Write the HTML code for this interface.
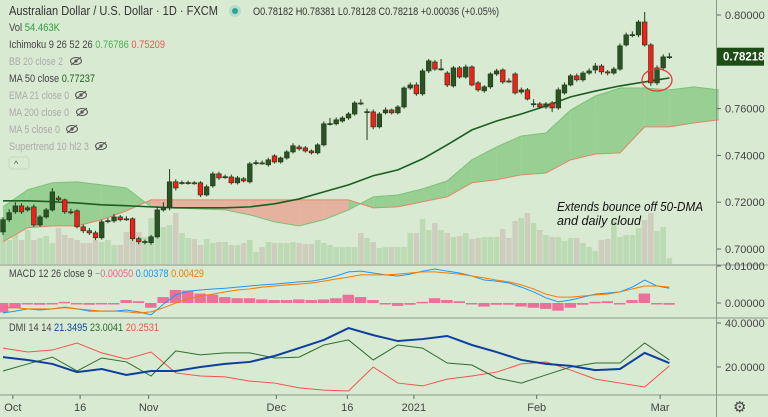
<!DOCTYPE html>
<html><head><meta charset="utf-8"><style>
html,body{margin:0;padding:0;background:#d9ead3;}
svg{display:block;font-family:"Liberation Sans",sans-serif;}
</style></head><body>
<svg id="c" width="768" height="417" viewBox="0 0 768 417" xmlns="http://www.w3.org/2000/svg">
<rect x="0" y="0" width="768" height="417" fill="#d9ead3"/>
<g id="g-vol"></g>
<g id="g-cloud"></g>
<g id="g-ma"></g>
<g id="g-candles"></g>
<g id="g-macd"></g>
<g id="g-dmi"></g>
<g id="g-axes"></g>
<ellipse cx="657" cy="80" rx="15" ry="11" fill="none" stroke="#e53935" stroke-width="1.3"/>
<text x="557" y="211" font-size="13" font-style="italic" fill="#111" textLength="146" lengthAdjust="spacingAndGlyphs">Extends bounce off 50-DMA</text>
<text x="557" y="225" font-size="13" font-style="italic" fill="#111" textLength="84" lengthAdjust="spacingAndGlyphs">and daily cloud</text>
<g>
<text x="9" y="15" fill="#333" font-size="12.5" textLength="209" lengthAdjust="spacingAndGlyphs">Australian Dollar / U.S. Dollar · 1D · FXCM</text>
<circle cx="235" cy="11" r="6" fill="#b9dcc9"/>
<circle cx="235" cy="11" r="3" fill="#26a69a"/>
<text x="253" y="15" font-size="11" fill="#333" textLength="246" lengthAdjust="spacingAndGlyphs">O0.78182 H0.78381 L0.78128 C0.78218 +0.00036 (+0.05%)</text>
<text x="9" y="31" font-size="11" fill="#444" textLength="51" lengthAdjust="spacingAndGlyphs">Vol <tspan fill="#2e9e3e">54.463K</tspan></text>
<text x="9" y="48" font-size="11" fill="#444" textLength="156" lengthAdjust="spacingAndGlyphs">Ichimoku 9 26 52 26 <tspan fill="#4caf50">0.76786</tspan> <tspan fill="#ef5350">0.75209</tspan></text>
<text x="9" y="65" font-size="11" fill="#aaa" textLength="54" lengthAdjust="spacingAndGlyphs">BB 20 close 2</text>
<text x="9" y="82" font-size="11" fill="#444" textLength="86" lengthAdjust="spacingAndGlyphs">MA 50 close <tspan fill="#1b5e20">0.77237</tspan></text>
<text x="9" y="99" font-size="11" fill="#aaa" textLength="60" lengthAdjust="spacingAndGlyphs">EMA 21 close 0</text>
<text x="9" y="116" font-size="11" fill="#aaa" textLength="60" lengthAdjust="spacingAndGlyphs">MA 200 close 0</text>
<text x="9" y="133" font-size="11" fill="#aaa" textLength="51" lengthAdjust="spacingAndGlyphs">MA 5 close 0</text>
<text x="9" y="150" font-size="11" fill="#aaa" textLength="80" lengthAdjust="spacingAndGlyphs">Supertrend 10 hl2 3</text>
<g id="eyes"></g>
<rect x="9" y="157" width="20" height="12" rx="3" fill="none" stroke="#c5d5c0"/>
<text x="14" y="167" font-size="9" fill="#555">^</text>
<text x="9" y="277" font-size="11" fill="#444" textLength="195" lengthAdjust="spacingAndGlyphs">MACD 12 26 close 9 <tspan fill="#f06292">−0.00050</tspan> <tspan fill="#2196f3">0.00378</tspan> <tspan fill="#f57c00">0.00429</tspan></text>
<text x="9" y="331" font-size="11" fill="#444" textLength="150" lengthAdjust="spacingAndGlyphs">DMI 14 14 <tspan fill="#0d47a1">21.3495</tspan> <tspan fill="#2e6b2e">23.0041</tspan> <tspan fill="#ef5350">20.2531</tspan></text>
</g>
</svg>
<script>
// ---- data ----
const opens=[.7073,.7125,.7159,.7184,.7167,.7180,.7103,.7137,.7167,.7218,.7210,.7159,.7163,.7095,.7078,.7069,.7048,.7120,.7120,.7137,.7129,.7129,.7044,.7031,.7027,.7052,.7167,.7176,.7287,.7283,.7283,.7283,.7283,.7231,.7270,.7321,.7308,.7308,.7283,.7300,.7287,.7368,.7368,.7360,.7398,.7372,.7389,.7415,.7436,.7432,.7419,.7411,.7445,.7535,.7535,.7547,.7560,.7577,.7624,.7586,.7586,.7522,.7582,.7594,.7582,.7607,.7688,.7701,.7663,.7761,.7799,.7769,.7752,.7697,.7774,.7735,.7778,.7710,.7676,.7693,.7748,.7765,.7718,.7748,.7671,.7680,.7620,.7620,.7607,.7624,.7603,.7667,.7701,.7740,.7723,.7752,.7765,.7782,.7757,.7752,.7769,.7872,.7915,.7915,.7970,.7872,.7710,.7774,.78182];
const closes=[.7125,.7155,.7184,.7159,.7176,.7103,.7137,.7167,.7244,.7210,.7159,.7157,.7095,.7078,.7069,.7048,.7116,.7121,.7137,.7125,.7128,.7044,.7031,.7032,.7052,.7167,.7176,.7287,.7261,.7284,.7284,.7282,.7231,.7266,.7321,.7304,.7309,.7283,.7304,.7291,.7364,.7369,.7367,.7381,.7372,.7389,.7415,.7441,.7428,.7419,.7411,.7445,.7535,.7536,.7552,.7560,.7577,.7624,.7623,.7587,.7522,.7577,.7594,.7582,.7607,.7688,.7701,.7663,.7761,.7804,.7769,.7770,.7701,.7774,.7735,.7778,.7701,.7680,.7693,.7748,.7761,.7714,.7717,.7667,.7680,.7641,.7621,.7607,.7620,.7603,.7680,.7701,.7740,.7723,.7752,.7761,.7782,.7757,.7752,.7769,.7868,.7915,.7916,.7970,.7872,.7710,.7774,.7821,.78218];
const highs=[.7135,.7170,.7200,.7195,.7185,.7190,.7145,.7175,.7260,.7228,.7215,.7172,.7170,.7105,.7090,.7078,.7125,.7132,.7150,.7145,.7140,.7135,.7052,.7040,.7060,.7180,.7200,.7342,.7298,.7292,.7292,.7290,.7290,.7275,.7330,.7330,.7318,.7318,.7312,.7308,.7372,.7380,.7378,.7390,.7405,.7395,.7422,.7452,.7445,.7440,.7425,.7452,.7545,.7560,.7562,.7568,.7585,.7632,.7640,.7600,.7596,.7585,.7605,.7600,.7615,.7695,.7712,.7712,.7770,.7812,.7808,.7812,.7760,.7782,.7782,.7788,.7785,.7718,.7700,.7755,.7770,.7772,.7730,.7755,.7690,.7688,.7640,.7628,.7628,.7632,.7690,.7712,.7748,.7750,.7760,.7772,.7795,.7790,.7765,.7778,.7878,.7925,.7930,.7978,.8013,.7880,.7785,.7832,.7838];
const lows=[.7060,.7115,.7150,.7150,.7160,.7095,.7095,.7130,.7160,.7205,.7150,.7148,.7088,.7068,.7060,.7038,.7040,.7110,.7112,.7118,.7120,.7035,.7020,.7020,.7018,.7045,.7160,.7165,.7250,.7275,.7275,.7275,.7222,.7225,.7262,.7295,.7300,.7276,.7276,.7284,.7280,.7358,.7360,.7352,.7365,.7365,.7382,.7408,.7420,.7412,.7404,.7404,.7438,.7528,.7528,.7540,.7552,.7570,.7615,.7466,.7512,.7515,.7575,.7575,.7575,.7600,.7680,.7655,.7655,.7752,.7762,.7762,.7692,.7690,.7728,.7728,.7695,.7672,.7668,.7685,.7740,.7706,.7710,.7660,.7662,.7635,.7605,.7600,.7598,.7585,.7595,.7660,.7695,.7715,.7715,.7745,.7750,.7745,.7742,.7745,.7762,.7865,.7905,.7905,.7865,.7697,.7700,.7765,.7812];
const volumes=[47,24,46,24,34,24,26,28,21,36,29,26,24,21,21,24,22,24,19,19,32,27,32,27,46,51,37,39,51,31,26,25,19,25,21,22,22,19,19,21,24,12,17,22,21,21,21,22,21,20,20,24,21,19,17,17,17,17,31,26,22,16,17,17,17,17,31,31,45,34,41,34,31,27,28,31,25,26,27,27,27,35,26,43,46,51,41,34,29,27,27,23,26,26,21,17,13,24,25,44,27,29,29,36,44,51,33,37,6];
// MACD sampled every 2 bars (units 1e-4)
const macdLine=[-27,-22,-16,-19,-16,-11,-16,-22,-22,-22,-19,-24,-32,-3,22,32,35,38,40,43,46,49,51,54,57,59,65,73,84,86,81,76,73,78,86,92,86,81,73,62,59,54,43,30,14,3,8,16,24,27,30,43,62,46,40];
const signalLine=[-11,-13,-16,-16,-16,-13,-16,-19,-22,-22,-24,-27,-24,-13,0,11,19,24,30,35,38,43,46,49,51,54,59,65,70,76,76,76,78,81,84,84,81,78,73,68,62,57,49,38,24,16,16,19,22,24,30,38,46,46,43];
// DMI sampled every 4 bars
const adx=[24.5,23.2,21.4,17.7,19.1,16.4,18.2,18.2,20,21.4,22.3,25,28.6,32.3,37.7,34.5,31.8,32.7,34.1,30,26.8,23.2,21.4,20.5,18.6,19.1,26.4,21.8];
const plusDI=[18.2,21.4,24.5,18.2,24.1,22.3,15.9,27.3,25.5,26.4,26.4,24.1,24.5,30,32.3,23.2,30,28.6,21.8,20.9,15,12.7,16.4,20,21.8,21.8,30.9,23.2];
const minusDI=[28.6,26.8,27.7,30.9,26.4,23.6,26.8,17.3,15.9,15.5,13.6,12.7,10.5,9.5,9.1,20,12.7,11.4,14.5,15.9,17.7,21.4,22.3,18.6,14.5,12.7,10.9,20.5];
// Ichimoku spans sampled every 4 bars (extends 26 bars ahead)
const spanA=[.7180,.7253,.7283,.7287,.7274,.7261,.7180,.7176,.7171,.7167,.7146,.7116,.7099,.7125,.7167,.7223,.7231,.7257,.7291,.7381,.7436,.7483,.7496,.7594,.7654,.7688,.7688,.7680,.7693,.7680];
const spanB=[.7031,.7091,.7099,.7099,.7125,.7163,.7210,.7210,.7210,.7210,.7210,.7210,.7210,.7210,.7210,.7176,.7180,.7202,.7223,.7283,.7296,.7317,.7325,.7381,.7406,.7411,.7522,.7522,.7539,.7552];
// MA50 sampled every 4 bars
const ma50=[.7206,.7206,.7202,.7197,.7189,.7185,.7180,.7176,.7176,.7176,.7180,.7193,.7214,.7244,.7274,.7313,.7338,.7385,.7445,.7509,.7547,.7577,.7611,.7650,.7675,.7697,.7714,.7731];
const priceTicks=[0.80,0.76,0.74,0.72,0.70];
const priceTickLabels=["0.80000","0.76000","0.74000","0.72000","0.70000"];
const macdTicks=[0.01,0];
const macdTickLabels=["0.01000","0.00000"];
const dmiTicks=[40,20];
const dmiTickLabels=["40.0000","20.0000"];
const timeIdx=[1.6,12.5,23.6,44.3,55.8,66.6,86.5,106.5];
const timeLabels=["Oct","16","Nov","Dec","16","2021","Feb","Mar"];

// ---- scales ----
const NS="http://www.w3.org/2000/svg";
const X=i=>3+i*6.17;
const Y=p=>15+(0.80-p)*2340;
const VY=v=>264-v;
const MY=v=>303-v*3700;
const DY=v=>323+(40-v)*2.2;
function el(tag,attrs,parent){const e=document.createElementNS(NS,tag);for(const k in attrs)e.setAttribute(k,attrs[k]);parent.appendChild(e);return e;}
const gV=document.getElementById('g-vol'),gC=document.getElementById('g-cloud'),gM=document.getElementById('g-ma'),gK=document.getElementById('g-candles'),gMa=document.getElementById('g-macd'),gD=document.getElementById('g-dmi'),gA=document.getElementById('g-axes');

// volume
volumes.forEach((v,i)=>{const up=closes[i]>=opens[i];
 const r=el('rect',{x:X(i)-2.8,y:VY(v),width:5.6,height:v,fill:up?'#bcdbb4':'#cfcebe'},gV);
 
 });

// cloud
for(let k=0;k<spanA.length-1;k++){
 const x1=X(4*k),x2=X(4*k+4);
 const g=(spanA[k]+spanA[k+1])>=(spanB[k]+spanB[k+1]);
 const p=el('polygon',{points:`${x1},${Y(spanA[k])} ${x2},${Y(spanA[k+1])} ${x2},${Y(spanB[k+1])} ${x1},${Y(spanB[k])}`,fill:g?'#98cf92':'#e6b2a0'},gC);
 
 
}
const pa=el('polyline',{points:spanA.map((v,k)=>X(4*k)+','+Y(v)).join(' '),fill:'none',stroke:'#7cc27a','stroke-width':1},gC);


const pb=el('polyline',{points:spanB.map((v,k)=>X(4*k)+','+Y(v)).join(' '),fill:'none',stroke:'#e0876a','stroke-width':1},gC);



// MA50
const ml=el('polyline',{points:ma50.map((v,k)=>X(4*k)+','+Y(v)).join(' '),fill:'none',stroke:'#1b5e20','stroke-width':1.6},gM);



// candles
opens.forEach((o,i)=>{const c=closes[i];const up=c>=o;
 const h=highs[i]!==undefined?highs[i]:Math.max(o,c),l=lows[i]!==undefined?lows[i]:Math.min(o,c);
 const w=el('line',{x1:X(i),x2:X(i),y1:Y(h),y2:Y(l),stroke:'#1f3d1a','stroke-width':1},gK);
 
 
 const top=Y(Math.max(o,c)),bh=Math.max(1,Math.abs(Y(o)-Y(c)));
 const b=el('rect',{x:X(i)-2.3,y:top,width:4.6,height:bh,fill:up?'#2b5424':'#ff1a1a',stroke:'#1f3d1a','stroke-width':0.7},gK);
 
 });

// MACD
macdLine.forEach((m,k)=>{const h=m-signalLine[k];const y0=MY(0),y1=MY(h*1e-4*1.6);
 const r=el('rect',{x:X(2*k)-6,y:Math.min(y0,y1),width:11.4,height:Math.max(1.5,Math.abs(y1-y0)),fill:'#f06292',opacity:0.9},gMa);
 
 });
const mb=el('polyline',{points:macdLine.map((v,k)=>X(2*k)+','+MY(v*1e-4)).join(' '),fill:'none',stroke:'#2196f3','stroke-width':1},gMa);


const ms=el('polyline',{points:signalLine.map((v,k)=>X(2*k)+','+MY(v*1e-4)).join(' '),fill:'none',stroke:'#f57c00','stroke-width':1},gMa);



// DMI
[[minusDI,'#ef5350',1,'minus-di-line'],[plusDI,'#2e6b2e',1,'plus-di-line'],[adx,'#0d3fa0',2,'adx-line']].forEach(([arr,col,sw,nm])=>{
 const p=el('polyline',{points:arr.map((v,k)=>X(4*k)+','+DY(v)).join(' '),fill:'none',stroke:col,'stroke-width':sw},gD);
 
 });

// axes & separators
[[265,'pane-separator-main'],[318,'pane-separator-macd'],[395,'pane-separator-dmi']].forEach(([y,n])=>{
 const l=el('line',{x1:0,x2:768,y1:y,y2:y,stroke:'#8a978a','stroke-width':1},gA);
 
 });
const av=el('line',{x1:716.5,x2:716.5,y1:0,y2:417,stroke:'#8a978a','stroke-width':1},gA);


function tick(y,label,nm){
 const t=el('line',{x1:717,x2:721,y1:y,y2:y,stroke:'#666'},gA);
 
 
 const tx=el('text',{x:725,y:y+4,'font-size':11,fill:'#444'},gA);
 tx.textContent=label;
 
 }
priceTicks.forEach((p,i)=>tick(Y(p),priceTickLabels[i],'price-axis'));
macdTicks.forEach((p,i)=>tick(MY(p),macdTickLabels[i],'macd-axis'));
dmiTicks.forEach((p,i)=>tick(DY(p),dmiTickLabels[i],'dmi-axis'));
timeIdx.forEach((ix,i)=>{
 const t=el('line',{x1:X(ix),x2:X(ix),y1:395,y2:399,stroke:'#666'},gA);
 
 
 const tx=el('text',{x:X(ix),y:411,'font-size':11,fill:'#444','text-anchor':'middle'},gA);
 tx.textContent=timeLabels[i];
 
 });
// last price label
const lp=closes[closes.length-1];
const lb=el('rect',{x:717,y:Y(lp)-9,width:47,height:18,fill:'#1b4d14'},gA);


const lt=el('text',{x:723,y:Y(lp)+4,'font-size':11.5,'font-weight':'bold',fill:'#fff'},gA);
lt.textContent=lp.toFixed(5);


// gear
const gear=el('text',{x:733,y:412,'font-size':15,fill:'#444'},gA);
gear.textContent='⚙';


// eye-off icons
const eyes=document.getElementById('eyes');
[[76,61],[81,95],[82,112],[72,129],[101,146]].forEach(([x,y])=>{
 const g=el('g',{},eyes);
 
 
 el('ellipse',{cx:x,cy:y,rx:5.5,ry:3.5,fill:'none',stroke:'#555','stroke-width':1},g);
 el('circle',{cx:x,cy:y,r:1.6,fill:'#555'},g);
 el('line',{x1:x-5,y1:y+4,x2:x+5,y2:y-4,stroke:'#555','stroke-width':1},g);
});
</script>
</body></html>
